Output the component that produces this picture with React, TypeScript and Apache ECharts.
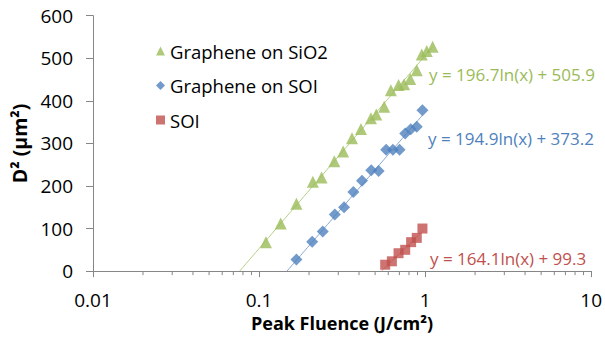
import React, { useEffect, useRef } from "react";
import * as echarts from "echarts";

// ---- data ----
const seriesNames = ["Graphene on SiO2", "Graphene on SOI", "SOI"];

const sio2X = [0.11, 0.135, 0.168, 0.211, 0.238, 0.284, 0.321, 0.363, 0.411, 0.472, 0.508, 0.567, 0.622, 0.692, 0.748, 0.813, 0.891, 0.955, 1.023, 1.11];
const sio2Y = [68, 112, 158, 210, 220, 258, 281, 312, 334, 359, 368, 386, 425, 437, 439, 451, 472, 509, 517, 527];

const graphSoiX = [0.168, 0.209, 0.242, 0.286, 0.325, 0.37, 0.417, 0.474, 0.525, 0.583, 0.64, 0.702, 0.759, 0.82, 0.891, 0.964];
const graphSoiY = [27, 69, 93, 133, 150, 186, 212, 237, 235, 285, 285, 285, 323, 333, 339, 378];

const soiX = [0.575, 0.631, 0.692, 0.759, 0.824, 0.891, 0.964];
const soiY = [15, 23, 42, 50, 68, 78, 100];

// trend line coefficients y = a ln(x) + b
const trendA = [196.7, 194.9, 164.1];
const trendB = [505.9, 373.2, 99.3];
const trendLabels = ["y = 196.7ln(x) + 505.9", "y = 194.9ln(x) + 373.2", "y = 164.1ln(x) + 99.3"];

const minorTicks = [0.02, 0.03, 0.04, 0.05, 0.06, 0.07, 0.08, 0.09, 0.2, 0.3, 0.4, 0.5, 0.6, 0.7, 0.8, 0.9, 2, 3, 4, 5, 6, 7, 8, 9];

const colors = ["#9BBB59", "#4F81BD", "#C0504D"];
const trendColors = ["#B5CF86", "#86A8D2", "#D08A88"];
const symbols = ["triangle", "diamond", "rect"];
const FONT = "'Open Sans'";

function trendPoints(a: number, b: number, xs: number[]) {
  const x0 = Math.exp(-b / a);
  const x1 = Math.max(...xs);
  const pts: number[][] = [];
  const n = 60;
  for (let i = 0; i <= n; i++) {
    const lx = Math.log(x0) + ((Math.log(x1) - Math.log(x0)) * i) / n;
    pts.push([Math.exp(lx), a * lx + b]);
  }
  return pts;
}

export default function App() {
  const ref = useRef<HTMLDivElement>(null);
  useEffect(() => {
    if (!ref.current) return;
    const chart = echarts.init(ref.current, null, { renderer: "svg" });
    const xs = [sio2X, graphSoiX, soiX];
    const ys = [sio2Y, graphSoiY, soiY];
    const scatter = xs.map((xArr, i) => ({
      name: seriesNames[i],
      type: "scatter",
      symbol: symbols[i],
      symbolSize: i === 2 ? 10 : 12,
      itemStyle: { color: colors[i] },
      data: xArr.map((x, j) => [x, ys[i][j]]),
      z: 3,
    }));
    const trends = xs.map((xArr, i) => ({
      name: "trend" + i,
      type: "line",
      showSymbol: false,
      symbol: "none",
      lineStyle: { color: trendColors[i], width: 1 },
      data: trendPoints(trendA[i], trendB[i], xArr),
      z: 2,
      silent: true,
    }));
    const eqY = [74, 138, 258];
    const eqX = [429, 428, 430];
    const option: any = {
      animation: false,
      textStyle: { fontFamily: FONT },
      grid: { left: 93, right: 12.5, top: 15.7, bottom: 63.7 },
      legend: {
        data: seriesNames.map((n, i) => ({ name: n, icon: symbols[i] })),
        orient: "vertical",
        left: 151,
        top: 36,
        itemWidth: 9,
        itemHeight: 9,
        itemGap: 14.5,
        textStyle: { fontFamily: FONT, fontSize: 18.5, color: "#000", lineHeight: 20 },
      },
      xAxis: {
        type: "log",
        logBase: 10,
        min: 0.01,
        max: 10,
        name: "Peak Fluence (J/cm²)",
        nameLocation: "middle",
        nameGap: 37,
        nameTextStyle: { fontFamily: FONT, fontSize: 18, fontWeight: "bold", color: "#000" },
        axisLine: { lineStyle: { color: "#868686" } },
        axisTick: { show: true, inside: false, length: 6, lineStyle: { color: "#868686" } },
        axisLabel: { fontFamily: FONT, fontSize: 19, color: "#000", margin: 19, formatter: (v: number) => String(v) },
        splitLine: { show: false },
      },
      yAxis: {
        type: "value",
        min: 0,
        max: 600,
        interval: 100,
        name: "D² (µm²)",
        nameLocation: "middle",
        nameGap: 59,
        nameTextStyle: { fontFamily: FONT, fontSize: 19.5, fontWeight: "bold", color: "#000" },
        axisLine: { show: true, lineStyle: { color: "#868686" } },
        axisTick: { show: true, length: 7, lineStyle: { color: "#868686" } },
        axisLabel: { fontFamily: FONT, fontSize: 19, color: "#000", margin: 20 },
        splitLine: { show: false },
      },
      graphic: trendLabels.map((t, i) => ({
        type: "text",
        x: eqX[i],
        y: eqY[i],
        style: { text: t, fill: colors[i], font: `17px ${FONT}`, verticalAlign: "middle" },
      })),
      series: [
        ...trends,
        ...scatter,
        {
          name: "minor",
          type: "custom",
          silent: true,
          clip: false,
          data: minorTicks.map((v) => [v, 0]),
          renderItem: (_params: any, api: any) => {
            const p = api.coord([api.value(0), 0]);
            return {
              type: "line",
              shape: { x1: p[0], y1: p[1], x2: p[0], y2: p[1] + 4 },
              style: { stroke: "#868686", lineWidth: 1 },
            };
          },
          z: 1,
        },
      ],
    };
    chart.setOption(option);
    return () => chart.dispose();
  }, []);
  return <div ref={ref} style={{ position: "absolute", left: 0, top: 0, width: 605, height: 337 }} />;
}
